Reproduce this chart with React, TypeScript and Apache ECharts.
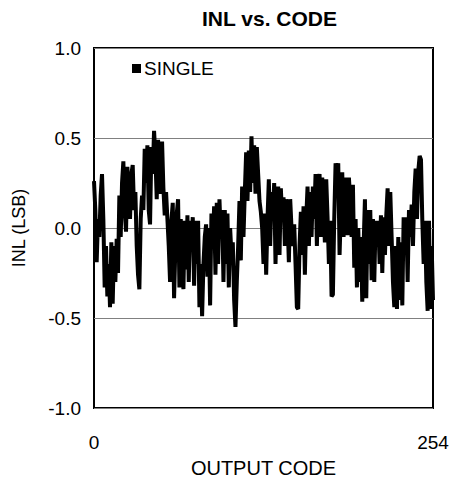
import React, { useEffect, useRef } from "react";
import * as echarts from "echarts";

const TITLE = "INL vs. CODE";
const SERIES_NAME = "SINGLE";
const X_NAME = "OUTPUT CODE";
const Y_NAME = "INL (LSB)";
const X_MIN = 0;
const X_MAX = 254;
const Y_MIN = -1.0;
const Y_MAX = 1.0;
const Y_STEP = 0.5;

const inl: number[] = [
  0.26, 0.10, -0.19, 0.05, -0.05, 0.18, 0.30, 0.05, -0.33, -0.10,
  -0.38, -0.20, -0.44, -0.08, -0.42, -0.10, -0.30, -0.06, -0.25, 0.18,
  -0.05, 0.25, 0.37, 0.10, -0.02, 0.34, 0.20, 0.05, 0.30, 0.35,
  0.10, 0.20, -0.10, -0.26, -0.34, 0.05, 0.18, 0.10, 0.44, 0.25,
  0.46, 0.10, 0.02, 0.45, 0.30, 0.54, 0.40, 0.16, 0.49, 0.30,
  0.19, 0.48, 0.22, 0.07, 0.20, 0.05, -0.10, -0.30, 0.04, 0.14,
  -0.39, -0.10, 0.08, 0.16, -0.33, 0.05, -0.15, -0.34, 0.04, -0.23,
  0.07, -0.30, 0.04, -0.10, 0.06, -0.32, 0.04, -0.20, 0.04, -0.44,
  -0.20, -0.49, -0.20, -0.05, 0.02, -0.27, 0.00, -0.43, 0.08, -0.10,
  0.12, -0.26, 0.14, -0.20, 0.16, -0.05, 0.10, -0.30, 0.10, -0.20,
  0.08, -0.33, 0.00, -0.15, -0.08, -0.40, -0.55, -0.30, -0.10, 0.15,
  -0.18, 0.23, -0.05, 0.20, 0.42, 0.15, 0.43, 0.20, 0.51, 0.25,
  0.46, 0.19, 0.45, 0.30, 0.15, 0.09, 0.00, -0.20, 0.08, -0.26,
  0.05, 0.27, -0.10, 0.20, 0.06, 0.25, -0.20, 0.10, 0.23, -0.15,
  0.22, 0.05, 0.17, -0.10, 0.16, 0.05, -0.19, 0.16, 0.00, -0.10,
  0.02, -0.20, -0.44, -0.45, -0.10, 0.09, -0.15, 0.12, -0.26, 0.05,
  0.23, -0.10, 0.20, -0.05, 0.23, 0.05, 0.30, -0.10, 0.20, 0.30,
  -0.05, 0.28, 0.10, -0.08, 0.27, 0.06, -0.20, 0.04, -0.38, -0.37,
  0.05, 0.36, 0.20, 0.36, -0.15, 0.10, 0.31, -0.05, 0.28, 0.10,
  -0.04, 0.28, 0.15, -0.05, 0.24, -0.22, 0.05, -0.33, 0.00, -0.30,
  -0.05, -0.41, -0.10, 0.16, -0.39, 0.10, -0.20, 0.10, -0.29, 0.05,
  -0.30, 0.04, -0.10, 0.04, -0.20, 0.07, -0.25, 0.06, -0.15, 0.07,
  0.22, -0.10, 0.20, -0.05, -0.30, -0.44, -0.10, -0.45, -0.05, -0.40,
  -0.08, -0.43, 0.06, -0.15, 0.06, -0.30, 0.10, -0.05, 0.13, -0.10,
  0.20, 0.33, 0.05, 0.32, 0.40, 0.38, 0.04, -0.20, 0.04, -0.30,
  -0.46, 0.04, -0.45, -0.10, -0.40,
];

const FONT = "Liberation Sans, Arial, sans-serif";

export default function App() {
  const ref = useRef<HTMLDivElement>(null);
  useEffect(() => {
    if (!ref.current) return;
    const chart = echarts.init(ref.current, undefined, { renderer: "svg" });
    const data = inl.map((v, i) => [i, v]);
    chart.setOption({
      animation: false,
      backgroundColor: "#ffffff",
      textStyle: { fontFamily: FONT },
      title: {
        text: TITLE,
        left: 197,
        top: 3,
        textStyle: { fontFamily: FONT, fontSize: 21, fontWeight: "bold", color: "#000" },
      },
      legend: {
        data: [{ name: SERIES_NAME, icon: "rect" }],
        left: 127,
        top: 54,
        itemWidth: 9,
        itemHeight: 9,
        itemGap: 4,
        textStyle: { fontFamily: FONT, fontSize: 19, color: "#000", padding: [0, 0, 0, -2] },
      },
      grid: {
        left: 94,
        right: 21,
        top: 48,
        bottom: 77,
        show: true,
        borderColor: "#000",
        borderWidth: 2,
        containLabel: false,
      },
      xAxis: {
        type: "value",
        min: X_MIN,
        max: X_MAX,
        interval: X_MAX - X_MIN,
        name: X_NAME,
        nameLocation: "middle",
        nameGap: 50,
        nameTextStyle: { fontFamily: FONT, fontSize: 20, color: "#000" },
        axisLine: { show: false },
        axisTick: { show: false },
        splitLine: { show: false },
        axisLabel: { fontFamily: FONT, fontSize: 19, color: "#000", margin: 25 },
      },
      yAxis: {
        type: "value",
        min: Y_MIN,
        max: Y_MAX,
        interval: Y_STEP,
        name: Y_NAME,
        nameLocation: "middle",
        nameGap: 66,
        nameTextStyle: { fontFamily: FONT, fontSize: 18, color: "#000" },
        axisLine: { show: false },
        axisTick: { show: false },
        splitLine: { show: true, lineStyle: { color: "#808080", width: 1 } },
        axisLabel: {
          fontFamily: FONT,
          fontSize: 19,
          color: "#000",
          margin: 13,
          formatter: (v: number) => v.toFixed(1),
        },
      },
      series: [
        {
          name: SERIES_NAME,
          type: "line",
          data,
          showSymbol: false,
          symbol: "none",
          itemStyle: { color: "#000" },
          lineStyle: { color: "#000", width: 4 },
        },
      ],
    });
    return () => chart.dispose();
  }, []);
  return (
    <div
      ref={ref}
      style={{ position: "fixed", left: 0, top: 0, width: 454, height: 485 }}
    />
  );
}
